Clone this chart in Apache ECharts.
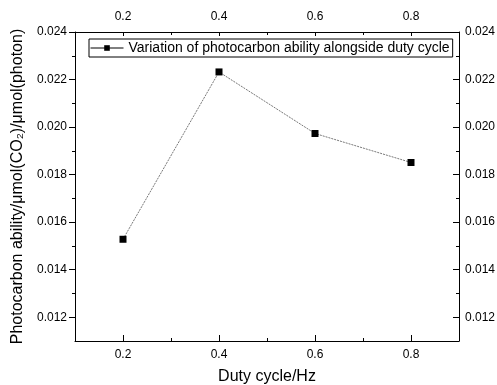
<!DOCTYPE html>
<html>
<head>
<meta charset="utf-8">
<script src="https://cdn.jsdelivr.net/npm/echarts@6/dist/echarts.min.js"></script>
<style>html,body{margin:0;padding:0;background:#fff}#c{width:497px;height:385px}</style>
</head>
<body>
<div id="c"></div>
<script>
const dutyCycle = [0.2, 0.4, 0.6, 0.8];
const photocarbon = [0.01528, 0.02232, 0.01973, 0.01851];
const xMajorTicks = [0.2, 0.4, 0.6, 0.8];
const xMinorTicks = [0.3, 0.5, 0.7];
const yMajorTicks = [0.012, 0.014, 0.016, 0.018, 0.020, 0.022, 0.024];
const yMinorTicks = [0.013, 0.015, 0.017, 0.019, 0.021, 0.023];
const seriesName = 'Variation of photocarbon ability alongside duty cycle';
const xName = 'Duty cycle/Hz';
const yName = 'Photocarbon ability/μmol(CO₂)/μmol(photon)';

const FONT = 'Liberation Sans, Arial, sans-serif';
const LBL = 12;
const xMin = 0.1, xMax = 0.9, yMin = 0.011, yMax = 0.024;

function xAx(pos, ticks, len, major, margin, extra) {
  return Object.assign({
    type: 'value', position: pos, min: xMin, max: xMax, interval: 0.1,
    axisLine: { show: major, lineStyle: { color: '#000', width: 1 } },
    axisTick: { show: true, inside: true, length: len, customValues: ticks, lineStyle: { color: '#000', width: 1 } },
    axisLabel: { show: major, customValues: ticks, color: '#000', fontSize: LBL, fontFamily: FONT, margin: margin,
      formatter: v => v.toFixed(1) },
    splitLine: { show: false }
  }, extra || {});
}
function yAx(pos, ticks, len, inside, major, margin, extra) {
  return Object.assign({
    type: 'value', position: pos, min: yMin, max: yMax, interval: 0.001,
    axisLine: { show: major, lineStyle: { color: '#000', width: 1 } },
    axisTick: { show: true, inside: inside, length: len, customValues: ticks, lineStyle: { color: '#000', width: 1 } },
    axisLabel: { show: major, customValues: ticks, color: '#000', fontSize: LBL, fontFamily: FONT, margin: margin,
      formatter: v => v.toFixed(3) },
    splitLine: { show: false }
  }, extra || {});
}

const chart = echarts.init(document.getElementById('c'), null, { renderer: 'canvas' });
chart.setOption({
  animation: false,
  backgroundColor: '#fff',
  grid: { left: 75, right: 38, top: 32, bottom: 44, containLabel: false, outerBoundsMode: 'none' },
  legend: {
    data: [seriesName], left: 89, top: 39,
    padding: [2, 3, 2, 1], itemWidth: 33, itemHeight: 7, itemGap: 4,
    borderColor: '#000', borderWidth: 1, backgroundColor: '#fff',
    lineStyle: { type: 'solid', color: '#000', width: 1 },
    textStyle: { color: '#000', fontSize: 14, fontFamily: FONT }
  },
  xAxis: [
    xAx('bottom', xMajorTicks, 6, true, 8, {
      name: xName, nameLocation: 'middle', nameGap: 28,
      nameTextStyle: { color: '#000', fontSize: 16, fontFamily: FONT }
    }),
    xAx('top', xMajorTicks, 4, true, 9),
    xAx('bottom', xMinorTicks, 3, false, 8),
    xAx('top', xMinorTicks, 3, false, 8)
  ],
  yAxis: [
    yAx('left', yMajorTicks, 6, false, true, 8, {
      name: yName, nameLocation: 'middle', nameGap: 46, nameRotate: 90,
      nameTextStyle: { color: '#000', fontSize: 16, fontFamily: FONT }
    }),
    yAx('right', yMajorTicks, 6, true, true, 6),
    yAx('left', yMinorTicks, 3, false, false, 8),
    yAx('right', yMinorTicks, 3, true, false, 6)
  ],
  series: [{
    name: seriesName, type: 'line', xAxisIndex: 0, yAxisIndex: 0,
    data: dutyCycle.map((x, i) => [x, photocarbon[i]]),
    symbol: 'rect', symbolSize: 7,
    itemStyle: { color: '#000' },
    lineStyle: { color: '#555', width: 0.8, type: [2, 1] },
    emphasis: { disabled: true }
  }]
});
</script>
</body>
</html>
